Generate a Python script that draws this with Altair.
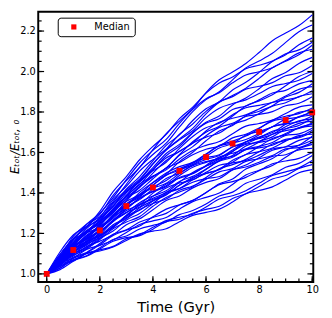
import altair as alt
import pandas as pd

time_grid = [0.0, 0.5, 1.0, 1.5, 2.0, 2.5, 3.0, 3.5, 4.0, 4.5, 5.0,
             5.5, 6.0, 6.5, 7.0, 7.5, 8.0, 8.5, 9.0, 9.5, 10.0]

runs = [
    [1.000,1.108,1.192,1.235,1.294,1.388,1.461,1.526,1.614,1.693,1.755,1.816,1.896,1.959,1.998,2.040,2.094,2.152,2.190,2.227,2.280],
    [1.000,1.083,1.185,1.246,1.283,1.357,1.443,1.527,1.590,1.646,1.726,1.802,1.861,1.900,1.959,2.018,2.052,2.090,2.144,2.197,2.230],
    [1.000,1.094,1.175,1.232,1.268,1.334,1.419,1.481,1.559,1.635,1.687,1.758,1.816,1.851,1.909,1.947,1.996,2.050,2.083,2.132,2.165],
    [1.000,1.080,1.172,1.231,1.309,1.407,1.481,1.564,1.630,1.689,1.767,1.824,1.893,1.943,1.973,2.014,2.031,2.052,2.088,2.107,2.145],
    [1.000,1.097,1.170,1.207,1.260,1.343,1.407,1.463,1.542,1.613,1.667,1.719,1.791,1.848,1.881,1.918,1.966,2.019,2.051,2.083,2.130],
    [1.000,1.073,1.167,1.245,1.300,1.377,1.466,1.548,1.611,1.665,1.744,1.813,1.866,1.895,1.944,1.983,1.999,2.019,2.055,2.092,2.110],
    [1.000,1.086,1.161,1.213,1.246,1.305,1.385,1.441,1.514,1.584,1.631,1.696,1.749,1.780,1.835,1.869,1.915,1.965,1.995,2.040,2.070],
    [1.000,1.071,1.154,1.206,1.278,1.367,1.433,1.508,1.566,1.618,1.690,1.741,1.803,1.850,1.876,1.913,1.927,1.945,1.979,1.994,2.030],
    [1.000,1.065,1.150,1.202,1.230,1.289,1.360,1.430,1.480,1.523,1.590,1.653,1.700,1.730,1.780,1.830,1.855,1.885,1.930,1.975,2.000],
    [1.000,1.086,1.149,1.200,1.267,1.351,1.416,1.468,1.545,1.612,1.663,1.707,1.772,1.819,1.842,1.860,1.891,1.926,1.941,1.957,1.990],
    [1.000,1.078,1.143,1.211,1.258,1.320,1.401,1.455,1.525,1.595,1.640,1.699,1.745,1.767,1.812,1.830,1.860,1.894,1.907,1.939,1.955],
    [1.000,1.065,1.141,1.169,1.216,1.289,1.338,1.403,1.451,1.493,1.555,1.601,1.658,1.706,1.733,1.781,1.804,1.831,1.874,1.897,1.940],
    [1.000,1.059,1.139,1.206,1.250,1.313,1.389,1.459,1.509,1.552,1.620,1.679,1.722,1.744,1.786,1.821,1.833,1.848,1.879,1.912,1.925],
    [1.000,1.080,1.136,1.182,1.244,1.322,1.380,1.427,1.498,1.560,1.606,1.646,1.706,1.749,1.769,1.786,1.815,1.847,1.860,1.874,1.905],
    [1.000,1.082,1.151,1.224,1.276,1.333,1.409,1.455,1.516,1.573,1.605,1.647,1.676,1.696,1.739,1.760,1.792,1.829,1.846,1.876,1.890],
    [1.000,1.060,1.131,1.174,1.236,1.314,1.368,1.433,1.481,1.524,1.586,1.629,1.683,1.724,1.744,1.778,1.788,1.802,1.831,1.843,1.875],
    [1.000,1.061,1.142,1.213,1.259,1.316,1.384,1.444,1.484,1.514,1.568,1.610,1.635,1.654,1.693,1.730,1.743,1.760,1.793,1.824,1.835],
    [1.000,1.074,1.123,1.164,1.221,1.293,1.344,1.380,1.439,1.488,1.521,1.546,1.590,1.635,1.656,1.681,1.718,1.759,1.779,1.792,1.820],
    [1.000,1.075,1.138,1.204,1.251,1.302,1.373,1.413,1.470,1.522,1.551,1.589,1.616,1.632,1.672,1.690,1.721,1.755,1.770,1.798,1.810],
    [1.000,1.054,1.121,1.159,1.217,1.290,1.338,1.393,1.431,1.461,1.511,1.540,1.580,1.622,1.644,1.686,1.704,1.727,1.765,1.775,1.805],
    [1.000,1.042,1.103,1.159,1.191,1.232,1.286,1.340,1.374,1.402,1.453,1.501,1.533,1.559,1.604,1.652,1.676,1.699,1.739,1.777,1.795],
    [1.000,1.065,1.118,1.175,1.212,1.261,1.330,1.367,1.420,1.471,1.498,1.538,1.565,1.585,1.628,1.652,1.687,1.727,1.746,1.774,1.785],
    [1.000,1.078,1.133,1.179,1.242,1.310,1.359,1.393,1.452,1.499,1.530,1.551,1.593,1.632,1.647,1.664,1.694,1.727,1.741,1.752,1.780],
    [1.000,1.044,1.100,1.132,1.185,1.243,1.277,1.327,1.362,1.390,1.439,1.471,1.516,1.560,1.585,1.632,1.655,1.677,1.716,1.733,1.770],
    [1.000,1.047,1.115,1.173,1.207,1.258,1.321,1.375,1.409,1.436,1.486,1.527,1.551,1.572,1.612,1.653,1.669,1.690,1.727,1.756,1.765],
    [1.000,1.070,1.128,1.191,1.234,1.281,1.347,1.385,1.438,1.488,1.513,1.550,1.574,1.589,1.627,1.644,1.672,1.705,1.717,1.744,1.755],
    [1.000,1.068,1.112,1.149,1.201,1.267,1.313,1.344,1.399,1.444,1.473,1.495,1.536,1.578,1.596,1.618,1.652,1.690,1.708,1.719,1.745],
    [1.000,1.054,1.096,1.147,1.178,1.212,1.266,1.299,1.348,1.397,1.422,1.465,1.496,1.517,1.562,1.590,1.629,1.669,1.688,1.722,1.740],
    [1.000,1.052,1.124,1.187,1.226,1.275,1.336,1.390,1.423,1.448,1.496,1.534,1.555,1.571,1.606,1.640,1.650,1.664,1.694,1.722,1.730],
    [1.000,1.048,1.108,1.141,1.194,1.260,1.302,1.352,1.385,1.411,1.457,1.482,1.518,1.557,1.576,1.615,1.630,1.649,1.684,1.692,1.720],
    [1.000,1.058,1.092,1.123,1.170,1.223,1.256,1.283,1.334,1.378,1.405,1.431,1.476,1.520,1.540,1.566,1.604,1.642,1.660,1.677,1.710],
    [1.000,1.054,1.119,1.158,1.217,1.282,1.322,1.372,1.406,1.431,1.476,1.498,1.532,1.567,1.581,1.614,1.623,1.636,1.665,1.673,1.700],
    [1.000,1.042,1.104,1.157,1.186,1.232,1.290,1.340,1.369,1.392,1.438,1.476,1.497,1.515,1.552,1.590,1.604,1.622,1.656,1.683,1.690],
    [1.000,1.050,1.088,1.135,1.162,1.193,1.243,1.272,1.317,1.363,1.385,1.425,1.452,1.471,1.513,1.538,1.574,1.611,1.628,1.660,1.675],
    [1.000,1.068,1.112,1.150,1.205,1.264,1.304,1.331,1.383,1.424,1.449,1.465,1.502,1.537,1.548,1.561,1.587,1.617,1.627,1.635,1.660],
    [1.000,1.043,1.098,1.127,1.176,1.236,1.273,1.318,1.348,1.370,1.413,1.434,1.468,1.504,1.520,1.556,1.569,1.585,1.618,1.624,1.650],
    [1.000,1.028,1.077,1.121,1.141,1.167,1.205,1.244,1.262,1.279,1.320,1.357,1.378,1.400,1.442,1.489,1.512,1.536,1.576,1.618,1.640],
    [1.000,1.059,1.105,1.159,1.192,1.229,1.285,1.315,1.360,1.403,1.422,1.453,1.471,1.481,1.515,1.528,1.552,1.581,1.589,1.613,1.620],
    [1.000,1.051,1.078,1.103,1.144,1.190,1.216,1.237,1.282,1.320,1.342,1.362,1.402,1.441,1.456,1.477,1.510,1.544,1.558,1.571,1.600],
    [1.000,1.029,1.070,1.090,1.129,1.170,1.187,1.222,1.240,1.257,1.293,1.313,1.345,1.385,1.404,1.448,1.468,1.490,1.527,1.546,1.585],
    [1.000,1.046,1.067,1.087,1.123,1.161,1.179,1.193,1.230,1.263,1.280,1.295,1.330,1.370,1.386,1.411,1.448,1.486,1.504,1.524,1.560],
    [1.000,1.038,1.065,1.102,1.119,1.136,1.173,1.189,1.221,1.258,1.270,1.300,1.319,1.334,1.373,1.396,1.432,1.469,1.486,1.521,1.540],
    [1.000,1.021,1.062,1.100,1.113,1.133,1.165,1.198,1.211,1.223,1.258,1.289,1.304,1.320,1.355,1.396,1.412,1.430,1.464,1.500,1.515],
    [1.000,1.035,1.082,1.106,1.150,1.196,1.218,1.256,1.279,1.299,1.340,1.364,1.401,1.445,1.469,1.518,1.544,1.570,1.612,1.636,1.680],
]

median_t = [0, 1, 2, 3, 4, 5, 6, 7, 8, 9, 10]
median_v = [1.0, 1.118, 1.215, 1.335, 1.427, 1.509, 1.577, 1.644, 1.702, 1.760, 1.798]
median_label = "Median"

x_major_ticks = [0, 2, 4, 6, 8, 10]
x_minor_ticks = [0, 0.5, 1, 1.5, 2, 2.5, 3, 3.5, 4, 4.5, 5, 5.5, 6, 6.5, 7, 7.5,
                 8, 8.5, 9, 9.5, 10]
y_major_ticks = [1.0, 1.2, 1.4, 1.6, 1.8, 2.0, 2.2]
y_minor_ticks = [1.0, 1.05, 1.1, 1.15, 1.2, 1.25, 1.3, 1.35, 1.4, 1.45, 1.5, 1.55,
                 1.6, 1.65, 1.7, 1.75, 1.8, 1.85, 1.9, 1.95, 2.0, 2.05, 2.1, 2.15,
                 2.2, 2.25]

W, H = 282, 277
FONT = "DejaVu Sans"

rows = []
for i, r in enumerate(runs):
    for t, v in zip(time_grid, r):
        rows.append({"run": i, "t": t, "v": v})
lines_df = pd.DataFrame(rows)
med_df = pd.DataFrame({"t": median_t, "v": median_v, "label": [median_label] * len(median_t)})

xs = alt.Scale(domain=[-0.32, 10.04], nice=False, zero=False)
ys = alt.Scale(domain=[0.96, 2.295], nice=False, zero=False)

x_axis = alt.Axis(values=x_major_ticks, format="d", title="Time (Gyr)",
                  labelPadding=3, titlePadding=5, labelFlush=False)
y_axis = alt.Axis(values=y_major_ticks, format=".1f", title="Eₜₒₜ/Eₜₒₜ, ₀",
                  labelPadding=3, labelFlush=False, titleFontSize=12,
                  titleX=-17, titleY=138, titleAngle=270, titleBaseline="bottom",
                  titleAlign="center", titleFontStyle="italic")

lines = alt.Chart(lines_df).mark_line(color="#0000ff", strokeWidth=1.2, interpolate="monotone").encode(
    x=alt.X("t:Q", scale=xs, axis=x_axis),
    y=alt.Y("v:Q", scale=ys, axis=y_axis),
    detail="run:N",
)

med = alt.Chart(med_df).mark_square(size=36, opacity=1).encode(
    x=alt.X("t:Q", scale=xs, axis=x_axis),
    y=alt.Y("v:Q", scale=ys, axis=y_axis),
    color=alt.Color("label:N", scale=alt.Scale(domain=[median_label], range=["#ff0000"]),
                    legend=alt.Legend(title=None, orient="none", legendX=20, legendY=6,
                                      padding=4.5, strokeColor="black", cornerRadius=3,
                                      fillColor="white", symbolType="square", symbolSize=28,
                                      symbolOffset=7, labelOffset=16, labelFontSize=10,
                                      labelFont=FONT, labelColor="black")),
)

def yticks(vals, x0, x1):
    return alt.Chart(pd.DataFrame({"v": vals})).mark_rule(color="black", strokeWidth=1.2).encode(
        y=alt.Y("v:Q", scale=ys, axis=y_axis), x=alt.value(x0), x2=alt.value(x1))

def xticks(vals, y0, y1):
    return alt.Chart(pd.DataFrame({"t": vals})).mark_rule(color="black", strokeWidth=1.2).encode(
        x=alt.X("t:Q", scale=xs, axis=x_axis), y=alt.value(y0), y2=alt.value(y1))

chart = alt.layer(
    lines, med,
    yticks(y_major_ticks, 0, 6), yticks(y_minor_ticks, 0, 3.5),
    yticks(y_major_ticks, W, W - 6), yticks(y_minor_ticks, W, W - 3.5),
    xticks(x_major_ticks, H, H - 6), xticks(x_minor_ticks, H, H - 3.5),
).properties(
    width=W, height=H,
    autosize=alt.AutoSizeParams(type="none"),
    padding={"left": 31, "top": 0, "right": 11, "bottom": 33},
).configure_view(
    stroke="black", strokeWidth=2
).configure_axis(
    domain=False, ticks=False, grid=False,
    labelFont=FONT, labelFontSize=10, labelColor="black",
    titleFont=FONT, titleFontSize=15, titleFontWeight="normal", titleColor="black",
)

chart.save("out.html", embed_options={"renderer": "svg", "actions": False})
